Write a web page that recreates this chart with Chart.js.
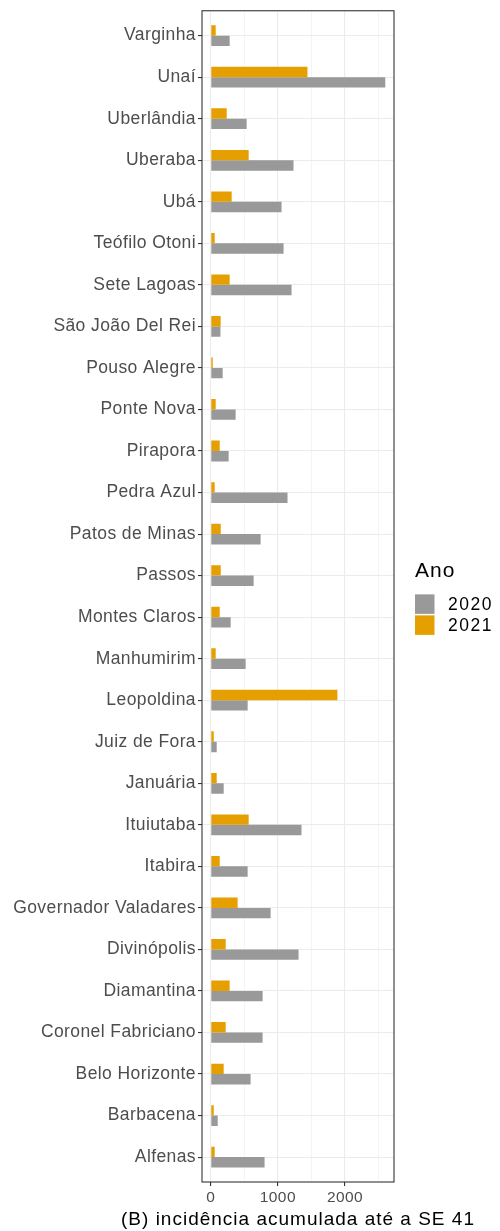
<!DOCTYPE html>
<html>
<head>
<meta charset="utf-8">
<script src="https://cdn.jsdelivr.net/npm/chart.js@4"></script>
<style>
  html, body { margin: 0; padding: 0; background: #ffffff; }
  #wrap { width: 500px; height: 1231px; }
</style>
</head>
<body>
<div id="wrap"><canvas id="c" width="500" height="1231"></canvas></div>
<script>
// ---- data (top to bottom as shown) ----
const cities = ['Varginha', 'Unaí', 'Uberlândia', 'Uberaba', 'Ubá', 'Teófilo Otoni', 'Sete Lagoas',
  'São João Del Rei', 'Pouso Alegre', 'Ponte Nova', 'Pirapora', 'Pedra Azul', 'Patos de Minas', 'Passos',
  'Montes Claros', 'Manhumirim', 'Leopoldina', 'Juiz de Fora', 'Januária', 'Ituiutaba', 'Itabira',
  'Governador Valadares', 'Divinópolis', 'Diamantina', 'Coronel Fabriciano', 'Belo Horizonte', 'Barbacena', 'Alfenas'];
const values2020 = [282, 2600, 535, 1233, 1055, 1085, 1204,
  145, 178, 371, 267, 1144, 743, 639,
  297, 520, 550, 89, 193, 1352, 550,
  892, 1308, 773, 773, 594, 104, 802];
const values2021 = [74, 1441, 238, 565, 312, 59, 282,
  148, 30, 74, 134, 59, 149, 149,
  134, 74, 1887, 45, 89, 565, 134,
  401, 223, 282, 223, 193, 45, 59];
const xTickLabels = [0, 1000, 2000];
const xGridValues = [0, 500, 1000, 1500, 2000, 2500];
const seriesNames = ['2020', '2021'];
const seriesColors = ['#999999', '#E69F00'];
const legendTitle = 'Ano';
const xTitle = '(B) incidência acumulada até a SE 41';

const FONT = "'Liberation Sans', Arial, Helvetica, sans-serif";

const spacing = {
  id: 'spacing',
  beforeDraw(chart) { chart.ctx.letterSpacing = '0.4px'; }
};

const panelBorder = {
  id: 'panelBorder',
  afterDatasetsDraw(chart) {
    const {ctx, chartArea: a} = chart;
    ctx.save();
    ctx.strokeStyle = '#333333';
    ctx.lineWidth = 1.1;
    ctx.strokeRect(a.left, a.top, a.right - a.left, a.bottom - a.top);
    ctx.restore();
  }
};

const axisTitle = {
  id: 'axisTitle',
  afterDraw(chart) {
    const {ctx, chartArea: a} = chart;
    ctx.save();
    ctx.letterSpacing = '1px';
    ctx.fillStyle = '#000000';
    ctx.font = '19px ' + FONT;
    ctx.textAlign = 'center';
    ctx.textBaseline = 'alphabetic';
    ctx.fillText(xTitle, (a.left + a.right) / 2, a.bottom + 43);
    ctx.restore();
  }
};

const ggLegend = {
  id: 'ggLegend',
  afterDraw(chart) {
    const ctx = chart.ctx;
    const x0 = chart.chartArea.right + 21;
    const yMid = (chart.chartArea.top + chart.chartArea.bottom) / 2;
    ctx.save();
    ctx.fillStyle = '#000000';
    ctx.textBaseline = 'alphabetic';
    ctx.textAlign = 'left';
    ctx.letterSpacing = '1px';
    ctx.font = '21px ' + FONT;
    ctx.fillText(legendTitle, x0, yMid - 19);
    ctx.letterSpacing = '1.5px';
    ctx.font = '17.5px ' + FONT;
    seriesNames.forEach((n, i) => {
      const top = yMid - 2 + i * 21;
      ctx.fillStyle = seriesColors[i];
      ctx.fillRect(x0, top, 19.5, 19.5);
      ctx.fillStyle = '#000000';
      ctx.fillText(n, x0 + 33, top + 16);
    });
    ctx.restore();
  }
};

new Chart(document.getElementById('c'), {
  type: 'bar',
  data: {
    datasets: [
      {
        label: seriesNames[1],
        data: cities.map((c, i) => ({ y: i, x: values2021[i] })),
        backgroundColor: seriesColors[1],
        borderWidth: 0,
        categoryPercentage: 0.5,
        barPercentage: 1.0
      },
      {
        label: seriesNames[0],
        data: cities.map((c, i) => ({ y: i, x: values2020[i] })),
        backgroundColor: seriesColors[0],
        borderWidth: 0,
        categoryPercentage: 0.5,
        barPercentage: 1.0
      }
    ]
  },
  options: {
    indexAxis: 'y',
    responsive: false,
    animation: false,
    devicePixelRatio: 1,
    layout: { padding: { top: 10, right: 106, left: 0, bottom: 0 } },
    plugins: {
      legend: { display: false },
      tooltip: { enabled: false },
      title: { display: false }
    },
    scales: {
      x: {
        type: 'linear',
        position: 'bottom',
        bounds: 'data',
        min: -130,
        max: 2730,
        afterBuildTicks(scale) { scale.ticks = xGridValues.map(v => ({ value: v })); },
        afterFit(scale) { scale.height = 49; },
        ticks: {
          autoSkip: false,
          maxRotation: 0,
          padding: 2,
          color: '#4D4D4D',
          font: { family: FONT, size: 15.5, lineHeight: 1.2 },
          callback: (v) => xTickLabels.includes(v) ? String(v) : ''
        },
        grid: {
          offset: false,
          color: '#EBEBEB',
          lineWidth: (ctx) => (ctx.tick && xTickLabels.includes(ctx.tick.value)) ? 1.1 : 0.55,
          tickColor: (ctx) => (ctx.tick && xTickLabels.includes(ctx.tick.value)) ? '#333333' : 'rgba(0,0,0,0)',
          tickLength: 4,
          tickWidth: 1.1
        },
        border: { display: false },
        title: { display: false }
      },
      y: {
        type: 'linear',
        position: 'left',
        reverse: true,
        bounds: 'data',
        offset: false,
        min: -0.6,
        max: cities.length - 1 + 0.6,
        afterBuildTicks(scale) { scale.ticks = cities.map((c, i) => ({ value: i })); },
        afterFit(scale) { scale.width = 202; },
        ticks: {
          autoSkip: false,
          padding: 2,
          color: '#4D4D4D',
          font: { family: FONT, size: 17.5, lineHeight: 1.0 },
          callback: (v) => cities[v] !== undefined ? cities[v] : ''
        },
        grid: {
          offset: false,
          color: '#EBEBEB',
          lineWidth: 1.1,
          tickColor: '#333333',
          tickLength: 4,
          tickWidth: 1.1
        },
        border: { display: false }
      }
    }
  },
  plugins: [spacing, panelBorder, axisTitle, ggLegend]
});
</script>
</body>
</html>
